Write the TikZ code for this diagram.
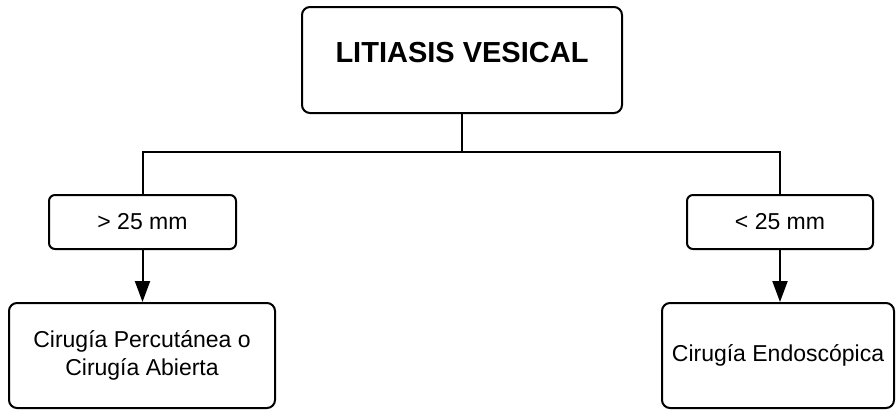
\documentclass[tikz,border=0pt]{standalone}
\usepackage{fontspec}
\setmainfont{Liberation Sans}
\usetikzlibrary{arrows.meta}
\begin{document}
\begin{tikzpicture}[x=1pt,y=-1pt,
  box/.style={draw=black,line width=2pt,rounded corners=8pt,align=center,inner sep=0pt},
  conn/.style={line width=2pt},
  arr/.style={line width=2pt,-{Triangle[length=21pt,width=15pt]}},
  small/.style={font=\fontsize{23}{28}\selectfont}]
\useasboundingbox (0,0) rectangle (896,410);
\node[box,minimum width=320pt,minimum height=106pt,font=\fontsize{29}{34}\bfseries,text height=20pt,text depth=16pt] (top) at (462,60) {LITIASIS VESICAL};
\coordinate (split) at (462,152);
\node[box,small,rounded corners=6pt,minimum width=187pt,minimum height=54pt] (labL) at (142.5,222) {> 25 mm};
\node[box,small,rounded corners=6pt,minimum width=186pt,minimum height=54pt] (labR) at (780,222) {< 25 mm};
\node[box,small,minimum width=266pt,minimum height=105pt] (resL) at (142,355.5) {Cirugía Percutánea o\\Cirugía Abierta};
\node[box,small,minimum width=232pt,minimum height=105pt] (resR) at (778,355.5) {Cirugía Endoscópica};
\draw[conn] (top.south) -- (split);
\draw[conn] (split) -| (labL.north);
\draw[conn] (split) -| (labR.north);
\draw[arr] (labL.south) -- (labL.south |- resL.north);
\draw[arr] (labR.south) -- (labR.south |- resR.north);
\end{tikzpicture}
\end{document}
